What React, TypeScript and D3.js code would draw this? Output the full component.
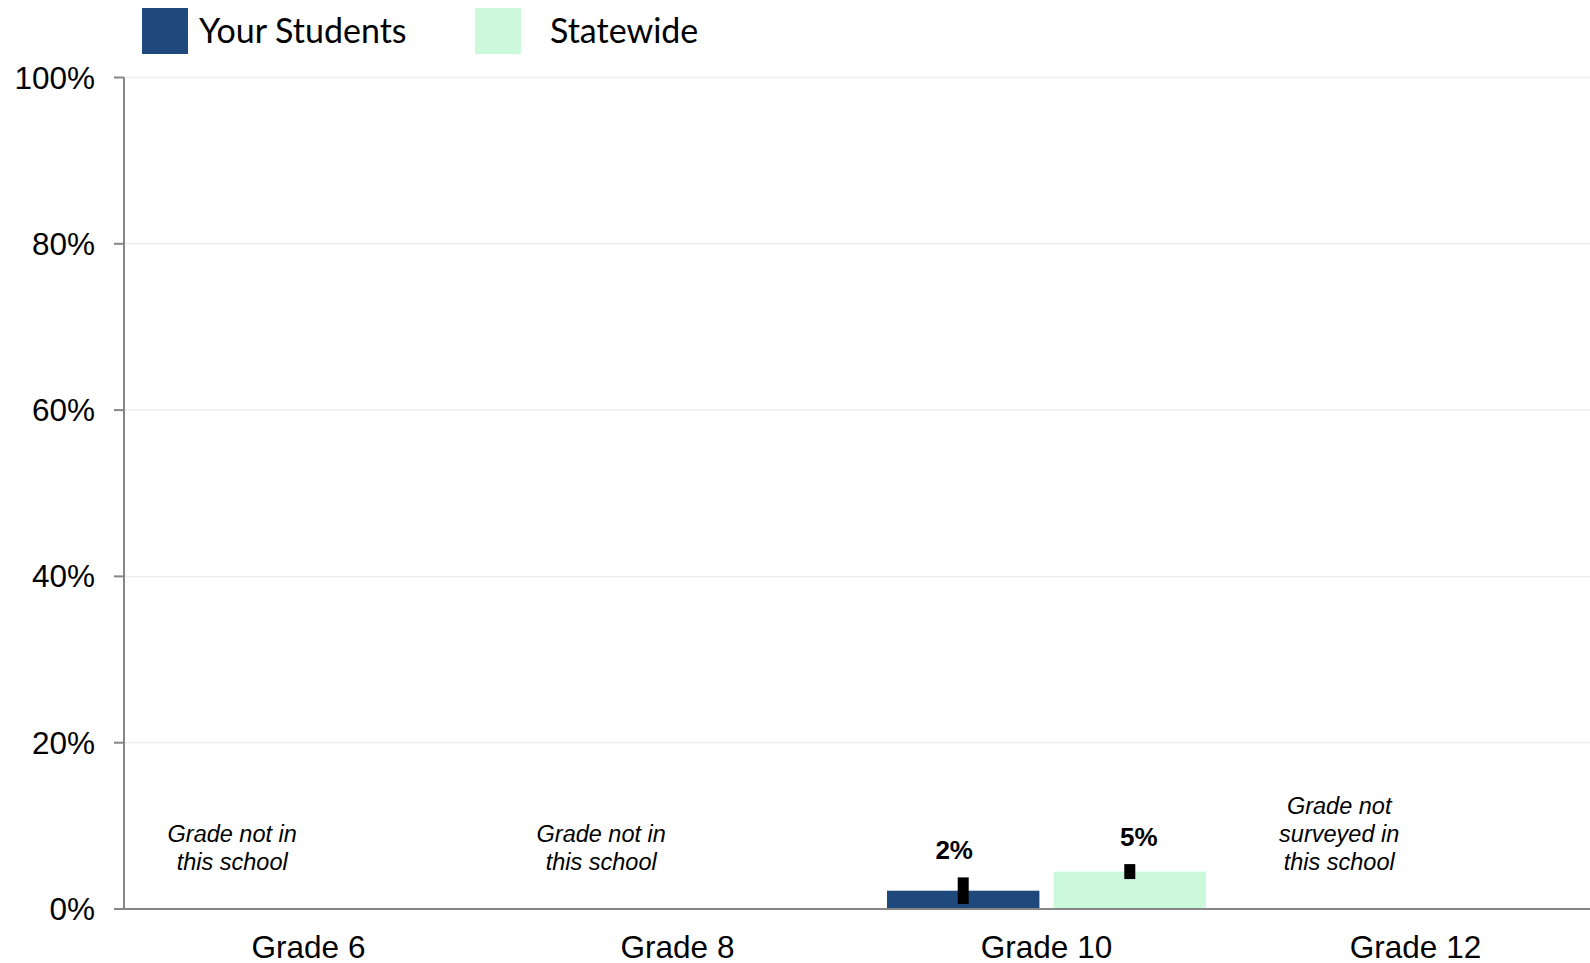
import React from "react";
import * as d3 from "d3";

const categories = ["Grade 6", "Grade 8", "Grade 10", "Grade 12"];
const seriesNames = ["Your Students", "Statewide"];
const seriesColors = ["#1f497d", "#ccf9dc"];
// values in %, null = no data
const yourStudents: (number | null)[] = [null, null, 2.2, null];
const statewide: (number | null)[] = [null, null, 4.5, null];
const yourStudentsErr: ([number, number] | null)[] = [null, null, [0.6, 3.8], null];
const statewideErr: ([number, number] | null)[] = [null, null, [3.6, 5.4], null];
const yourStudentsLabels = ["", "", "2%", ""];
const statewideLabels = ["", "", "5%", ""];
const notes: string[][] = [
  ["Grade not in", "this school"],
  ["Grade not in", "this school"],
  [],
  ["Grade not", "surveyed in", "this school"],
];
const yTicks = [0, 20, 40, 60, 80, 100];

const W = 1590;
const H = 963;
const left = 124;
const right = 1600;
const top = 77.5;
const bottom = 909;

export default function App() {
  const x = d3.scaleBand<string>().domain(categories).range([left, right]).padding(0);
  const xs = d3.scaleBand<string>().domain(seriesNames).range([25, 344]).paddingInner(0.085).paddingOuter(0);
  const y = d3.scaleLinear().domain([0, 100]).range([bottom, top]);

  const values = [yourStudents, statewide];
  const errs = [yourStudentsErr, statewideErr];
  const labels = [yourStudentsLabels, statewideLabels];
  const labelShift = [-9, 9];

  return (
    <svg
      width={W}
      height={H}
      style={{ position: "absolute", left: 0, top: 0, display: "block", background: "#fff" }}
    >
      {/* gridlines */}
      {yTicks.filter((t) => t > 0).map((t) => (
        <line key={"g" + t} x1={left} x2={W} y1={y(t)} y2={y(t)} stroke="#eeeeee" strokeWidth={1.5} />
      ))}
      {/* bars */}
      {values.map((vals, si) =>
        categories.map((c, ci) => {
          const v = vals[ci];
          if (v == null) return null;
          const bx = (x(c) as number) + (xs(seriesNames[si]) as number);
          return (
            <rect key={`b${si}-${ci}`} x={bx} y={y(v)} width={xs.bandwidth()} height={y(0) - y(v)} fill={seriesColors[si]} />
          );
        })
      )}
      {/* error bars */}
      {errs.map((es, si) =>
        categories.map((c, ci) => {
          const e = es[ci];
          if (!e) return null;
          const cx = (x(c) as number) + (xs(seriesNames[si]) as number) + xs.bandwidth() / 2;
          return (
            <rect key={`e${si}-${ci}`} x={cx - 5.5} y={y(e[1])} width={11} height={y(e[0]) - y(e[1])} fill="#000" />
          );
        })
      )}
      {/* data labels */}
      {labels.map((ls, si) =>
        categories.map((c, ci) => {
          const e = errs[si][ci];
          if (!ls[ci] || !e) return null;
          const cx = (x(c) as number) + (xs(seriesNames[si]) as number) + xs.bandwidth() / 2 + labelShift[si];
          return (
            <text
              key={`l${si}-${ci}`}
              x={cx}
              y={y(e[1]) - 18}
              textAnchor="middle"
              fontFamily="Liberation Sans, Arial, sans-serif"
              fontWeight="bold"
              fontSize={26}
              fill="#000"
            >
              {ls[ci]}
            </text>
          );
        })
      )}
      {/* notes */}
      {notes.map((lines, ci) => {
        if (!lines.length) return null;
        const cx = (x(categories[ci]) as number) + (xs(seriesNames[0]) as number) + xs.bandwidth() / 2 + 7;
        return (
          <text
            key={"n" + ci}
            textAnchor="middle"
            fontFamily="Liberation Sans, Arial, sans-serif"
            fontStyle="italic"
            fontSize={23.5}
            fill="#000"
          >
            {lines.map((ln, li) => (
              <tspan key={li} x={cx} y={870 - (lines.length - 1 - li) * 28}>
                {ln}
              </tspan>
            ))}
          </text>
        );
      })}
      {/* y axis */}
      <line x1={left} x2={left} y1={top} y2={bottom} stroke="#868686" strokeWidth={2} />
      {yTicks.map((t) => (
        <g key={"t" + t}>
          <line x1={114} x2={left} y1={y(t)} y2={y(t)} stroke="#868686" strokeWidth={2} />
          <text
            x={95}
            y={y(t) + 11}
            textAnchor="end"
            fontFamily="Liberation Sans, Arial, sans-serif"
            fontSize={31.5}
            fill="#000"
          >
            {t}%
          </text>
        </g>
      ))}
      {/* x axis */}
      <line x1={114} x2={W} y1={bottom} y2={bottom} stroke="#868686" strokeWidth={2} />
      {categories.map((c) => (
        <text
          key={"x" + c}
          x={(x(c) as number) + x.bandwidth() / 2}
          y={958}
          textAnchor="middle"
          fontFamily="Liberation Sans, Arial, sans-serif"
          fontSize={31.5}
          fill="#000"
        >
          {c}
        </text>
      ))}
      {/* legend */}
      {seriesNames.map((s, i) => {
        const lx = [142, 475][i];
        const tx = [199, 550][i];
        return (
          <g key={"lg" + s}>
            <rect x={lx} y={8} width={46} height={46} fill={seriesColors[i]} />
            <text x={tx} y={43} fontFamily="Lato, Carlito, Calibri, sans-serif" fontSize={34} fill="#000">
              {s}
            </text>
          </g>
        );
      })}
    </svg>
  );
}
